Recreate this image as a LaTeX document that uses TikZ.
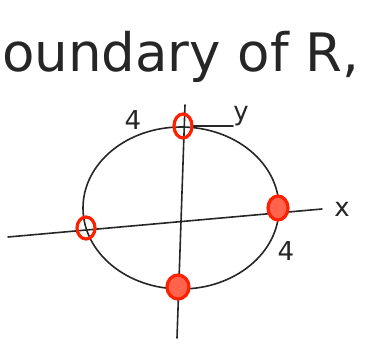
\documentclass[tikz,border=0pt]{standalone}
\usepackage{fontspec}
\setmainfont{DejaVu Sans}
\usetikzlibrary{shapes.geometric}
\tikzset{
  ink/.style={draw=black!85, line width=1.6pt, line cap=round},
  mark ring/.style={draw=red!75!orange, line width=3.2pt},
  hand/.style={inner sep=0pt, text=black!85, font=\fontsize{26}{26}\selectfont}
}
\begin{document}
\begin{tikzpicture}[x=1pt,y=-1pt]
\useasboundingbox (0,0) rectangle (366,350);
% title
\node[inner sep=0pt, anchor=base west, text=black!85,
      font=\fontsize{53}{53}\selectfont] (title) at (2,72) {oundary of R,};
% axes
\coordinate (xl) at (8,237);
\coordinate (xr) at (322,209);
\coordinate (yt) at (185,105);
\coordinate (yb) at (177,338);
\draw[ink] (xl) -- (xr);
\draw[ink] (yt) -- (yb);
% ellipse
\draw[ink] (181,208) ellipse [x radius=98, y radius=81];
\node[ellipse, minimum width=196pt, minimum height=162pt, inner sep=0pt] (ell) at (181,208) {};
% marked points
\node[mark ring, ellipse, minimum width=18pt, minimum height=24pt, inner sep=0pt] (ptop) at (183,126) {};
\node[mark ring, fill=red!75!orange!70, ellipse, minimum width=20pt, minimum height=24pt, inner sep=0pt] (pright) at (278,208) {};
\node[mark ring, ellipse, minimum width=18pt, minimum height=22pt, inner sep=0pt] (pleft) at (86,228) {};
\node[mark ring, fill=red!75!orange!70, ellipse, minimum width=22pt, minimum height=24pt, inner sep=0pt] (pbot) at (178,287) {};
% labels
\node[hand] (l4a) at (133,120) {4};
\node[hand] (ly) at (241,116) {y};
\draw[ink] (ptop.east) -- (ly.south west);
\node[hand] (lx) at (342,209) {x};
\node[hand] (l4b) at (286,251) {4};
\end{tikzpicture}
\end{document}
